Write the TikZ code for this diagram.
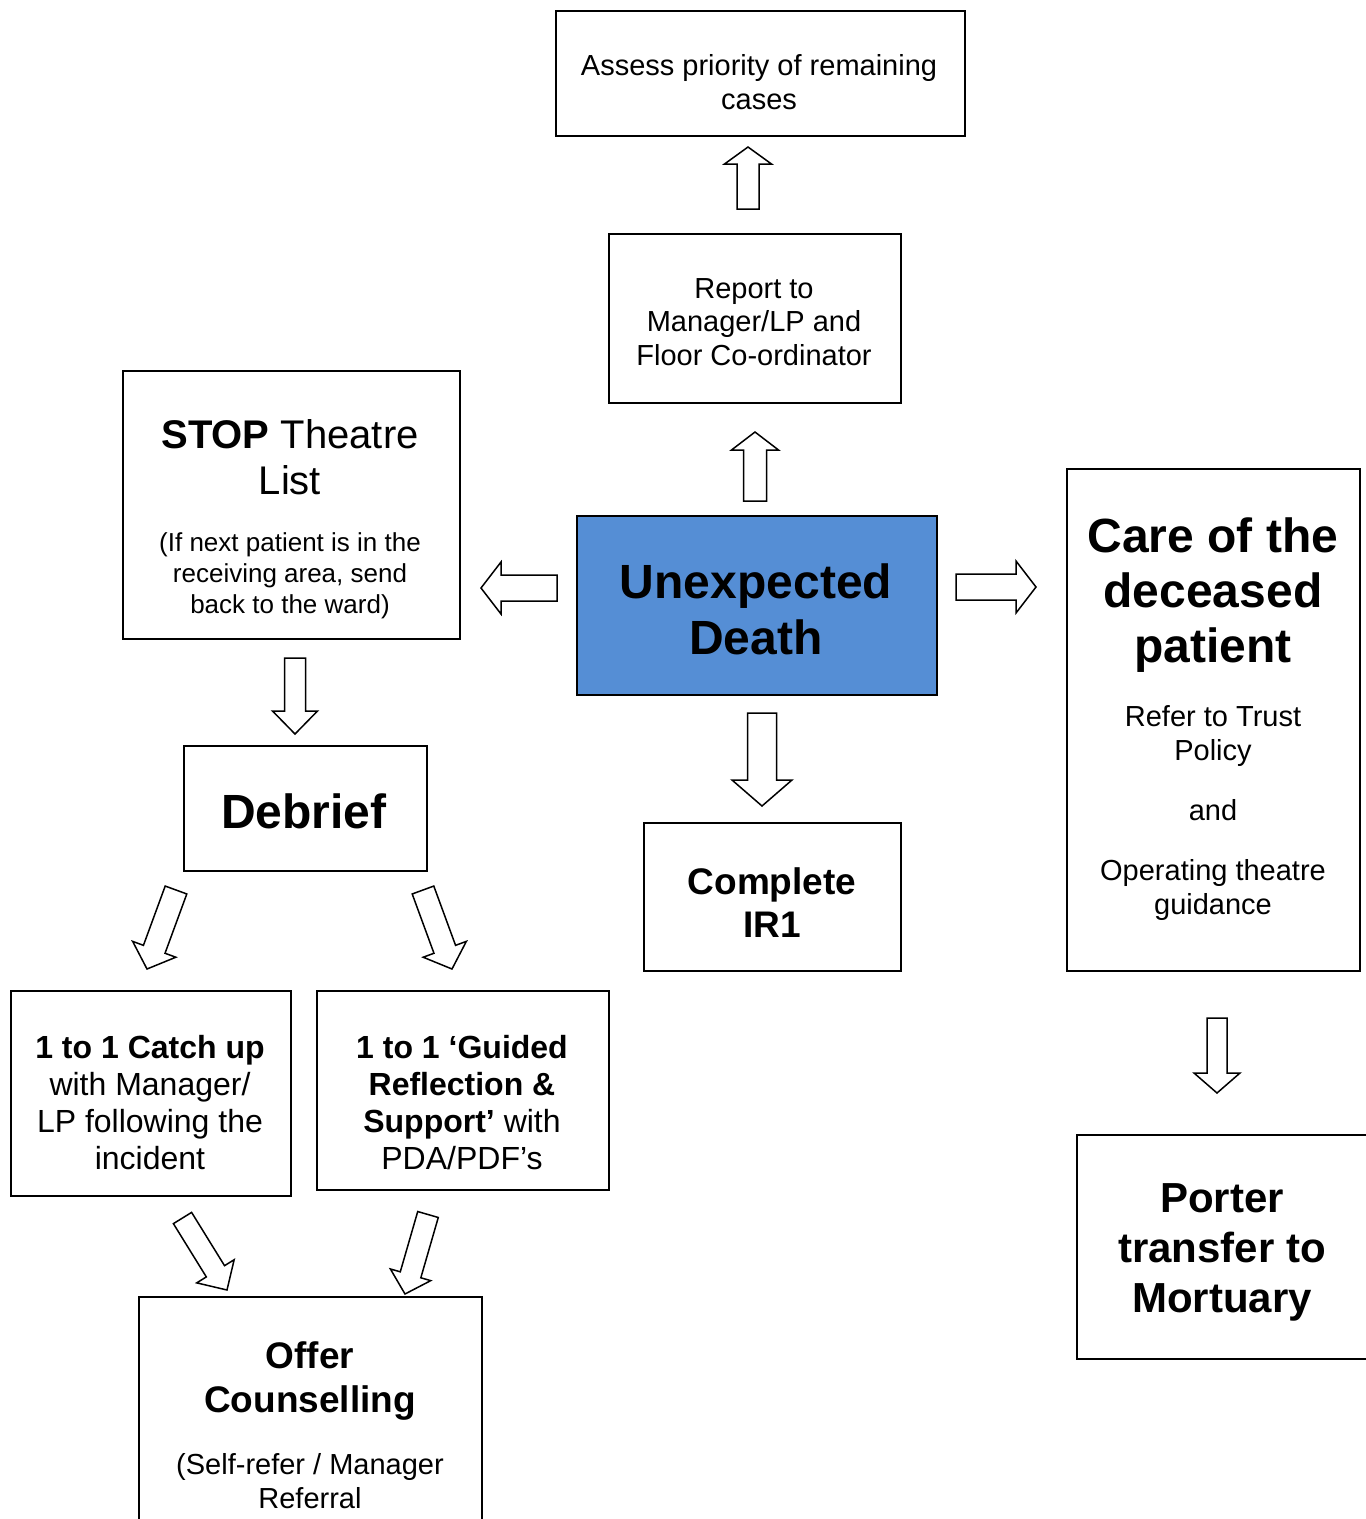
\documentclass[tikz,border=0pt]{standalone}
\usepackage{fontspec}
\setmainfont{Liberation Sans}
\usetikzlibrary{calc}
\definecolor{udblue}{RGB}{85,142,213}
\tikzset{
  box/.style={draw=black, line width=1.6pt, fill=white, rectangle, inner sep=0pt, anchor=north west},
  txt/.style={inner sep=0pt, anchor=base, align=flush center, text width=#1},
  txt/.default=400pt,
  barrow/.style={draw=black, line width=1.5pt, fill=white, line join=miter}
}
\newcommand\blockarrow[5]{%
  \path ($(#2)!#5!(#1)$) coordinate (hb);
  \draw[barrow] ($(#1)!#3!90:(#2)$) -- ($(hb)!#3!90:(#2)$) -- ($(hb)!#4!90:(#2)$) -- (#2)
     -- ($(hb)!#4!-90:(#2)$) -- ($(hb)!#3!-90:(#2)$) -- ($(#1)!#3!-90:(#2)$) -- cycle;
}
\newcommand\fs[2]{\fontsize{#1}{#2}\selectfont}
\begin{document}
\begin{tikzpicture}[x=1pt,y=-1pt]
\useasboundingbox (0,0) rectangle (1366,1519);
\clip (0,0) rectangle (1366,1519);
\fill[white] (0,0) rectangle (1366,1519);

% boxes
\node[box, minimum width=409, minimum height=125] (assess) at (555,10) {};
\node[box, minimum width=292, minimum height=169] (report) at (608,233) {};
\node[box, minimum width=337, minimum height=268] (stop) at (122,370) {};
\node[box, fill=udblue, minimum width=360, minimum height=179] (death) at (576,515) {};
\node[box, minimum width=293, minimum height=502] (care) at (1066,468) {};
\node[box, minimum width=243, minimum height=125] (debrief) at (183,745) {};
\node[box, minimum width=257, minimum height=148] (ir1) at (643,822) {};
\node[box, minimum width=280, minimum height=205] (catch) at (10,990) {};
\node[box, minimum width=292, minimum height=199] (guided) at (316,990) {};
\node[box, minimum width=343, minimum height=260] (offer) at (138,1296) {};
\node[box, minimum width=300, minimum height=224] (porter) at (1076,1134) {};

% texts
\node[txt] (assess-t) at (759,75) {\fs{29}{34}Assess priority of remaining\\cases\par};
\node[txt] (report-t) at (754,298) {\fs{29}{33.5}Report to\\Manager/LP and\\Floor Co-ordinator\par};
\node[txt] (stop-t) at (290,448) {\fs{40}{46}\textbf{STOP} Theatre\\List\par};
\node[txt] (stop-n) at (290,551) {\fs{26}{31}(If next patient is in the\\receiving area, send\\back to the ward)\par};
\node[txt] (death-t) at (756,598) {\fs{48}{56}\textbf{Unexpected}\\\textbf{Death}\par};
\node[txt] (care-t) at (1213,552) {\fs{48}{55}\textbf{Care of the}\\\textbf{deceased}\\\textbf{patient}\par};
\node[txt] (care-n) at (1213,726) {\fs{29}{34}Refer to Trust\\Policy\\[26pt]and\\[26pt]Operating theatre\\guidance\par};
\node[txt] (debrief-t) at (304,828) {\fs{48}{56}\textbf{Debrief}\par};
\node[txt] (ir1-t) at (772,894) {\fs{37}{43}\textbf{Complete}\\\textbf{IR1}\par};
\node[txt] (catch-t) at (150,1058) {\fs{32}{37}\textbf{1 to 1 Catch up}\\with Manager/\\LP following the\\incident\par};
\node[txt] (guided-t) at (462,1058) {\fs{32}{37}\textbf{1 to 1 ‘Guided}\\\textbf{Reflection \&}\\\textbf{Support’} with\\PDA/PDF’s\par};
\node[txt] (offer-t) at (310,1368) {\fs{37}{44}\textbf{Offer}\\\textbf{Counselling}\par};
\node[txt] (offer-n) at (310,1474) {\fs{29}{34}(Self-refer / Manager\\Referral\par};
\node[txt] (porter-t) at (1222,1212) {\fs{42}{50}\textbf{Porter}\\\textbf{transfer to}\\\textbf{Mortuary}\par};

% block arrows
\coordinate (a1s) at (748,209);  \coordinate (a1e) at (748,147);
\coordinate (a2s) at (755,501);  \coordinate (a2e) at (755,432);
\coordinate (a3s) at (557,588);  \coordinate (a3e) at (481,588);
\coordinate (a4s) at (956,587);  \coordinate (a4e) at (1036,587);
\coordinate (a5s) at (762,713);  \coordinate (a5e) at (762,806);
\coordinate (a6s) at (295,658);  \coordinate (a6e) at (295,734);
\coordinate (a7s) at (1217,1018); \coordinate (a7e) at (1217,1093);
\coordinate (a8s) at (176,890);  \coordinate (a8e) at (147,969);
\coordinate (a9s) at (423,890);  \coordinate (a9e) at (452,969);
\coordinate (a10s) at (182.5,1218); \coordinate (a10e) at (227,1290);
\coordinate (a11s) at (428,1214.5); \coordinate (a11e) at (405,1294);

\blockarrow{a1s}{a1e}{11pt}{23.5pt}{17pt}
\blockarrow{a2s}{a2e}{11.5pt}{23.5pt}{18pt}
\blockarrow{a3s}{a3e}{13pt}{26pt}{20pt}
\blockarrow{a4s}{a4e}{13pt}{26pt}{20pt}
\blockarrow{a5s}{a5e}{14.5pt}{30pt}{26pt}
\blockarrow{a6s}{a6e}{10.5pt}{22.5pt}{23pt}
\blockarrow{a7s}{a7e}{10pt}{23pt}{20pt}
\blockarrow{a8s}{a8e}{11.5pt}{23pt}{21pt}
\blockarrow{a9s}{a9e}{11.5pt}{23pt}{21pt}
\blockarrow{a10s}{a10e}{10.7pt}{22pt}{22pt}
\blockarrow{a11s}{a11e}{10.7pt}{21pt}{20pt}
\end{tikzpicture}
\end{document}
